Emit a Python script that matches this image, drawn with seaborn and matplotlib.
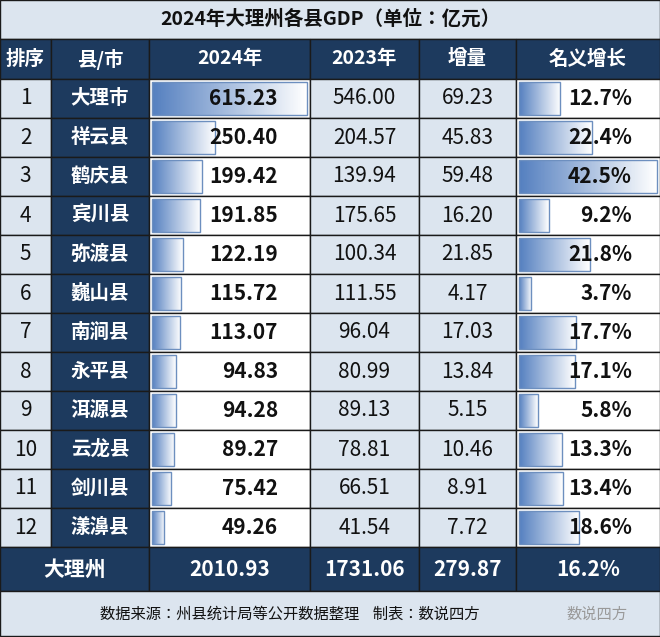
import numpy as np
import matplotlib
matplotlib.use("Agg")
import matplotlib.pyplot as plt
import seaborn as sns
from matplotlib.patches import Rectangle

sns.set_theme(style="white")
plt.rcParams["font.family"] = "sans-serif"
plt.rcParams["font.sans-serif"] = ["Noto Sans CJK SC", "Noto Sans CJK JP", "DejaVu Sans"]

title = "2024年大理州各县GDP（单位：亿元）"
headers = ["排序", "县/市", "2024年", "2023年", "增量", "名义增长"]
ranks = list(range(1, 13))
counties = ["大理市", "祥云县", "鹤庆县", "宾川县", "弥渡县", "巍山县", "南涧县", "永平县", "洱源县", "云龙县", "剑川县", "漾濞县"]
gdp2024 = [615.23, 250.40, 199.42, 191.85, 122.19, 115.72, 113.07, 94.83, 94.28, 89.27, 75.42, 49.26]
gdp2023 = [546.00, 204.57, 139.94, 175.65, 100.34, 111.55, 96.04, 80.99, 89.13, 78.81, 66.51, 41.54]
increase = [69.23, 45.83, 59.48, 16.20, 21.85, 4.17, 17.03, 13.84, 5.15, 10.46, 8.91, 7.72]
growth = [12.7, 22.4, 42.5, 9.2, 21.8, 3.7, 17.7, 17.1, 5.8, 13.3, 13.4, 18.6]
total = ["大理州", "2010.93", "1731.06", "279.87", "16.2%"]
footer = "数据来源：州县统计局等公开数据整理    制表：数说四方"

W, H = 660, 637
fig = plt.figure(figsize=(6.6, 6.37), dpi=100)
ax = fig.add_axes([0, 0, 1, 1])
ax.set_xlim(0, W); ax.set_ylim(H, 0); ax.axis("off")

NAVY = "#1d3a5e"; LIGHT = "#dce5ef"; EDGE = "#1a1a1a"
cols = [0, 51, 149, 310, 419, 516, 660]
y0, rh = 79, 39.0
FS = 14
NF = 15

def cell(x0, x1, ya, yb, fc):
    ax.add_patch(Rectangle((x0, ya), x1 - x0, yb - ya, fc=fc, ec=EDGE, lw=1))

cell(0, W, 0, 39, LIGHT)
ax.text(W / 2, 19, title, ha="center", va="center", fontsize=14, weight="bold", color="#111")
for i, h in enumerate(headers):
    cell(cols[i], cols[i + 1], 39, y0, NAVY)
    ax.text((cols[i] + cols[i + 1]) / 2, 59, h, ha="center", va="center", fontsize=FS, weight="bold", color="white")

grad = np.linspace(0, 1, 100).reshape(1, -1)
cmap = matplotlib.colors.LinearSegmentedColormap.from_list("g", ["#5580c0", "#ffffff"])

def gbar(x, ya, w, h):
    im = ax.imshow(grad, cmap=cmap, extent=[x, x + w, ya + h, ya], aspect="auto", zorder=2)
    ax.add_patch(Rectangle((x, ya), w, h, fc="none", ec="#6d8fbf", lw=1, zorder=3))
    im.set_clip_path(Rectangle((x, ya), w, h, transform=ax.transData))

mx24, mxg = max(gdp2024), max(growth)
for r in range(12):
    ya = y0 + r * rh; yb = ya + rh; yc = (ya + yb) / 2
    cell(cols[0], cols[1], ya, yb, LIGHT)
    cell(cols[1], cols[2], ya, yb, NAVY)
    cell(cols[2], cols[3], ya, yb, "white")
    cell(cols[3], cols[4], ya, yb, LIGHT)
    cell(cols[4], cols[5], ya, yb, LIGHT)
    cell(cols[5], cols[6], ya, yb, "white")
    gbar(cols[2] + 3, ya + 3, (cols[3] - cols[2] - 6) * gdp2024[r] / mx24, rh - 6)
    gbar(cols[5] + 3, ya + 3, (cols[6] - cols[5] - 6) * growth[r] / mxg, rh - 6)
    ax.text((cols[0] + cols[1]) / 2, yc, str(ranks[r]), ha="center", va="center", fontsize=NF, color="#111")
    ax.text((cols[1] + cols[2]) / 2, yc, counties[r], ha="center", va="center", fontsize=FS, weight="bold", color="white")
    ax.text(cols[3] - 32, yc, f"{gdp2024[r]:.2f}", ha="right", va="center", fontsize=NF, weight="bold", color="#111", zorder=4)
    ax.text((cols[3] + cols[4]) / 2, yc, f"{gdp2023[r]:.2f}", ha="center", va="center", fontsize=NF, color="#111")
    ax.text((cols[4] + cols[5]) / 2, yc, f"{increase[r]:.2f}", ha="center", va="center", fontsize=NF, color="#111")
    ax.text(cols[6] - 28, yc, f"{growth[r]:.1f}%", ha="right", va="center", fontsize=NF, weight="bold", color="#111", zorder=4)

ty = y0 + 12 * rh; tb = 591
merge = [(0, 149), (149, 310), (310, 419), (419, 516), (516, 660)]
for (a, b), t in zip(merge, total):
    cell(a, b, ty, tb, NAVY)
    ax.text((a + b) / 2, (ty + tb) / 2, t, ha="center", va="center", fontsize=NF, weight="bold", color="white")

cell(0, W, tb, H - 1, LIGHT)
ax.text(100, (tb + H) / 2, footer, ha="left", va="center", fontsize=11, color="#111")
ax.text(566, (tb + H) / 2, "数说四方", ha="left", va="center", fontsize=11, color="#999")

fig.savefig("out.png", dpi=100)
